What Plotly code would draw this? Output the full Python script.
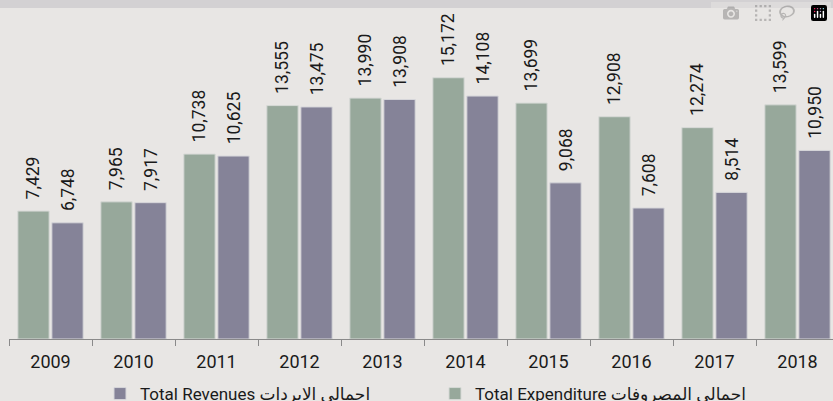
import plotly.graph_objects as go

years = ["2009", "2010", "2011", "2012", "2013", "2014", "2015", "2016", "2017", "2018"]
expenditure = [7429, 7965, 10738, 13555, 13990, 15172, 13699, 12908, 12274, 13599]
revenues = [6748, 7917, 10625, 13475, 13908, 14108, 9068, 7608, 8514, 10950]

name_exp = "Total Expenditure اجمالي المصروفات"
name_rev = "Total Revenues اجمالي الايردات"

GREEN = "#97a89b"
PURPLE = "#858398"
BG = "#e8e6e4"
FONT = "Liberation Sans Narrow, Roboto, DejaVu Sans, sans-serif"
PAD = "\u00a0\u00a0"

fig = go.Figure()
fig.add_trace(go.Bar(
    x=years, y=expenditure, name=name_exp,
    marker=dict(color=GREEN, line=dict(color="#d6d9d6", width=1)),
    text=[PAD + f"{v:,}" for v in expenditure], textposition="outside",
    textangle=-90, textfont=dict(size=17.5, color="#1a1a1a", family=FONT),
    cliponaxis=False, constraintext="none",
))
fig.add_trace(go.Bar(
    x=years, y=revenues, name=name_rev,
    marker=dict(color=PURPLE, line=dict(color="#d6d6da", width=1)),
    text=[PAD + f"{v:,}" for v in revenues], textposition="outside",
    textangle=-90, textfont=dict(size=17.5, color="#1a1a1a", family=FONT),
    cliponaxis=False, constraintext="none",
))

W, H = 833, 401
ML, MR, MT, MB = 9, 0, 10, 62
plot_w = W - ML - MR
plot_h = H - MT - MB
cat_w = 83.0
fig.update_layout(
    width=W, height=H,
    margin=dict(l=ML, r=MR, t=MT, b=MB, autoexpand=False),
    paper_bgcolor=BG, plot_bgcolor=BG,
    barmode="group", bargap=0.18, bargroupgap=0.08,
    font=dict(family=FONT, size=17, color="#1a1a1a"),
    showlegend=True,
    legend=dict(
        orientation="h", traceorder="reversed",
        xref="container", yref="container",
        x=100 / W, xanchor="left",
        y=(H - 394) / H, yanchor="middle",
        entrywidth=290, entrywidthmode="pixels",
        font=dict(size=17, family=FONT, color="#1a1a1a"),
        bgcolor="rgba(0,0,0,0)",
    ),
    xaxis=dict(
        type="category",
        range=[-0.5, -0.5 + plot_w / cat_w],
        tickson="boundaries", ticks="outside", ticklen=6, tickcolor="#8a8a8a",
        showline=True, linecolor="#8a8a8a", linewidth=1,
        showgrid=False, zeroline=False,
        tickfont=dict(size=18, family=FONT, color="#1a1a1a"),
        ticklabelstandoff=6,
        fixedrange=True,
    ),
    yaxis=dict(
        range=[0, (339 - MT) / 0.01722],
        visible=False, showgrid=False, zeroline=False, fixedrange=True,
    ),
    shapes=[dict(
        type="rect", xref="paper", yref="paper",
        x0=-ML / plot_w, x1=1.0,
        y0=1 + 2 / plot_h, y1=1 + MT / plot_h,
        fillcolor="#d3d1d3", line=dict(width=0), layer="below",
    )],
)

fig.write_html(
    "out.html",
    post_script="document.body.style.margin='0';document.body.style.background='#e8e6e4';",
)
